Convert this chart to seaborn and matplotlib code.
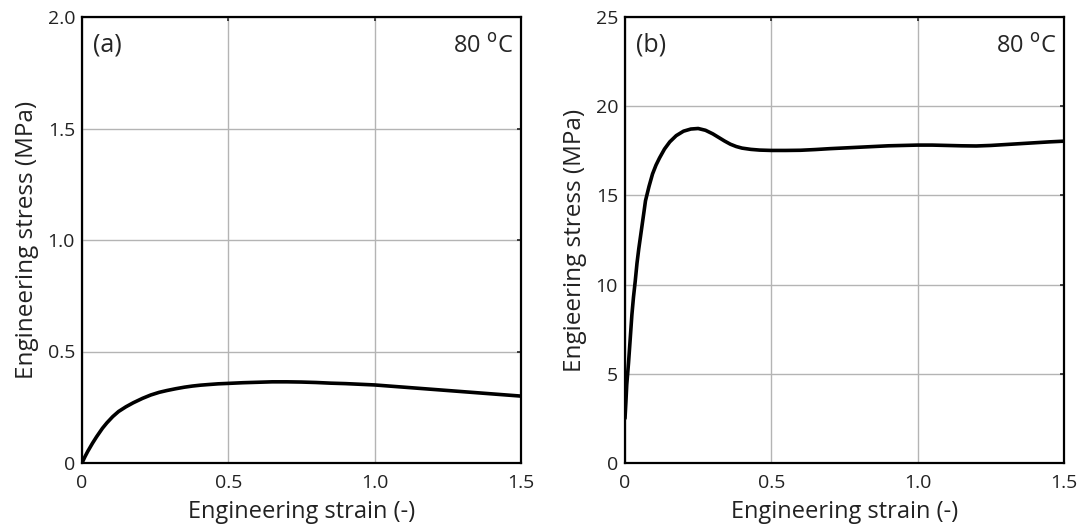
import numpy as np
import pandas as pd
import matplotlib
matplotlib.use("Agg")
import matplotlib.pyplot as plt
import seaborn as sns

# Panel (a) data
strain_a = [0.0, 0.01, 0.02, 0.036, 0.05, 0.07, 0.085, 0.105, 0.125, 0.15, 0.175, 0.207, 0.235,
            0.264, 0.29, 0.32, 0.35, 0.377, 0.405, 0.434, 0.465, 0.5, 0.55, 0.6, 0.65, 0.7,
            0.75, 0.8, 0.85, 0.9, 0.95, 1.0, 1.05, 1.1, 1.15, 1.2, 1.25, 1.3, 1.35, 1.4, 1.45, 1.5]
stress_a = [0.0, 0.028, 0.053, 0.089, 0.118, 0.156, 0.18, 0.208, 0.231, 0.252, 0.27, 0.29, 0.305,
            0.317, 0.325, 0.333, 0.34, 0.345, 0.349, 0.352, 0.355, 0.357, 0.36, 0.362, 0.364, 0.364,
            0.363, 0.361, 0.358, 0.356, 0.353, 0.35, 0.345, 0.34, 0.335, 0.33, 0.325, 0.32, 0.315, 0.31, 0.305, 0.30]

# Panel (b) data
strain_b = [0.0, 0.003, 0.006, 0.009, 0.012, 0.018, 0.0235, 0.029, 0.035, 0.041, 0.047, 0.053,
            0.059, 0.065, 0.07, 0.082, 0.094, 0.106, 0.118, 0.135, 0.153, 0.175, 0.2, 0.225,
            0.25, 0.275, 0.3, 0.32, 0.34, 0.36, 0.38, 0.4, 0.43, 0.46, 0.5, 0.55, 0.6, 0.65,
            0.7, 0.75, 0.8, 0.85, 0.9, 0.95, 1.0, 1.05, 1.1, 1.15, 1.2, 1.25, 1.3, 1.35, 1.4, 1.45, 1.5]
stress_b = [2.5, 3.4, 4.4, 5.0, 5.6, 7.0, 8.3, 9.3, 10.2, 11.2, 12.0, 12.7,
            13.4, 14.1, 14.7, 15.5, 16.2, 16.7, 17.1, 17.6, 18.0, 18.35, 18.6, 18.72,
            18.75, 18.65, 18.45, 18.25, 18.05, 17.87, 17.74, 17.65, 17.58, 17.54, 17.52, 17.52, 17.53, 17.57,
            17.62, 17.66, 17.7, 17.74, 17.78, 17.8, 17.82, 17.82, 17.8, 17.78, 17.77, 17.8, 17.85, 17.9, 17.95, 18.0, 18.04]

xticks = [0, 0.5, 1.0, 1.5]
xticklabels = ["0", "0.5", "1.0", "1.5"]
yticks_a = [0, 0.5, 1.0, 1.5, 2.0]
yticklabels_a = ["0", "0.5", "1.0", "1.5", "2.0"]
yticks_b = [0, 5, 10, 15, 20, 25]
yticklabels_b = ["0", "5", "10", "15", "20", "25"]

sns.set_style("white")
plt.rcParams['font.family'] = ['Open Sans', 'DejaVu Sans']

fig = plt.figure(figsize=(10.89, 5.32), dpi=100)
ax_a = fig.add_axes([82/1089, 69/532, 439/1089, 446/532])
ax_b = fig.add_axes([625/1089, 69/532, 439/1089, 446/532])

df_a = pd.DataFrame({"strain": strain_a, "stress": stress_a})
df_b = pd.DataFrame({"strain": strain_b, "stress": stress_b})

sns.lineplot(data=df_a, x="strain", y="stress", ax=ax_a, color="black", linewidth=2.6, sort=False)
sns.lineplot(data=df_b, x="strain", y="stress", ax=ax_b, color="black", linewidth=2.6, sort=False)

for ax, yt, ytl, ylab, lab, ymax in [
        (ax_a, yticks_a, yticklabels_a, "Engineering stress (MPa)", "(a)", 2.0),
        (ax_b, yticks_b, yticklabels_b, "Engieering stress (MPa)", "(b)", 25)]:
    ax.set_xlim(0, 1.5)
    ax.set_ylim(0, ymax)
    ax.set_xticks(xticks)
    ax.set_xticklabels(xticklabels)
    ax.set_yticks(yt)
    ax.set_yticklabels(ytl)
    ax.grid(True, color="#b4b4b4", linewidth=1.0)
    ax.set_axisbelow(True)
    for s in ax.spines.values():
        s.set_color("black")
        s.set_linewidth(1.6)
    ax.tick_params(direction="in", length=3, width=1.2, top=True, right=True,
                   labelsize=14, colors="#222222")
    ax.tick_params(axis="x", pad=8)
    ax.tick_params(axis="y", pad=5)
    ax.set_xlabel("Engineering strain (-)", fontsize=17, labelpad=6, color="#222222")
    ax.set_ylabel(ylab, fontsize=17.5, labelpad=6, color="#222222")
    ax.text(0.025, 0.965, lab, transform=ax.transAxes, fontsize=18, va="top", ha="left")
    ax.text(0.982, 0.96, "80 $^{\\mathrm{o}}$C", transform=ax.transAxes, fontsize=17, va="top", ha="right")

fig.savefig("out.png", dpi=100)
